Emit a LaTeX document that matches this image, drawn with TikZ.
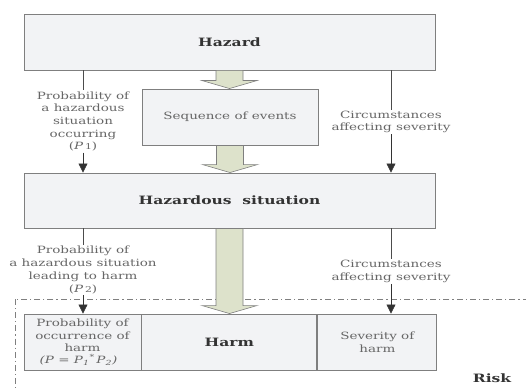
\documentclass[tikz,border=0pt]{standalone}
\usepackage{fontspec}
\setmainfont{DejaVu Serif}[FakeStretch=1.35]
\usetikzlibrary{positioning, arrows.meta, calc}
\definecolor{boxfill}{HTML}{F2F3F5}
\definecolor{boxline}{HTML}{7F7F7F}
\definecolor{labelgray}{HTML}{666666}
\definecolor{arrowfill}{HTML}{DDE2CB}
\tikzset{
  box1/.style = {
    shape = rectangle,
    draw = boxline,
    fill = boxfill,
    line width = 0.9pt,
    inner sep = 0pt,
    align = center,
    text = black!80,
    font = \fontsize{11.5}{14}\selectfont\bfseries,
  },
  box2/.style = {
    box1,
    text = labelgray,
    font = \fontsize{10}{12.7}\selectfont,
  }
}
\tikzset{
  label1/.style = {
    align = center, inner sep = 1pt, text = labelgray,
    font = \fontsize{10}{12.7}\selectfont,
  }
}
\tikzset{
  arrow1/.style = {
    draw = black!80, line width = 0.6pt, -{Triangle[length = 9pt, width = 9pt]},
  },
  line1/.style = {draw = black!70, line width = 0.6pt},
  bigarrow1/.style = {draw = boxline, fill = arrowfill, line width = 0.6pt},
  dashdot1/.style = {draw = boxline, line width = 0.7pt,
    dash pattern = on 6pt off 3pt on 1.2pt off 3pt},
}
% fat block arrow from the bottom of #1 to the top of #2
\newcommand{\fatarrow}[2]{%
  \path[bigarrow1] let \p1 = (#1.south), \p2 = (#2.north) in
    (\x1-13.5pt,\y1) -- (\x1+13.5pt,\y1) -- (\x1+13.5pt,\y2+8pt)
    -- (\x1+27.5pt,\y2+8pt) -- (\x1,\y2) -- (\x1-27.5pt,\y2+8pt)
    -- (\x1-13.5pt,\y2+8pt) -- cycle;}

\begin{document}
\begin{tikzpicture}[x = 1pt, y = -1pt]
    \useasboundingbox (0,0) rectangle (526,390);
    \draw[dashdot1] (15,299) rectangle (560,420);

    \node[box1, minimum width = 411pt, minimum height = 56pt] (hazard) at (229.5,42) {Hazard};
    \node[box2, minimum width = 176pt, minimum height = 56pt] (seq) at (230,117) {Sequence of events};
    \node[box1, minimum width = 411pt, minimum height = 55pt] (hazsit) at (229.5,200.5) {Hazardous\ \ situation};
    \node[box2, minimum width = 117pt, minimum height = 56pt] (prob) at (82.5,342)
        {Probability of\\occurrence of\\harm\\[-1pt]{\itshape (P = P\textsubscript{1}\textsuperscript{*}\,P\textsubscript{2})}\hspace*{8pt}};
    \node[box1, minimum width = 175pt, minimum height = 56pt, right = 0pt of prob] (harm) {Harm};
    \node[box2, minimum width = 119pt, minimum height = 56pt, right = 0pt of harm] (sev) {Severity of\\harm};

    \node[label1] (p1) at (83,121.5) {Probability of\\a hazardous\\situation\\occurring\\(\textit{P}\,{\footnotesize 1})};
    \node[label1] (c1) at (391,122) {Circumstances\\affecting severity};
    \node[label1] (p2) at (83,270) {Probability of\\a hazardous situation\\leading to harm\\(\textit{P}\,{\footnotesize 2})};
    \node[label1] (c2) at (391,271.5) {Circumstances\\affecting severity};
    \node[font = \fontsize{11.5}{14}\selectfont\bfseries, text = black!80] (risk) at (492,378) {Risk};

    \draw[line1] (hazard.south -| p1) -- (p1.north);
    \draw[arrow1] (p1.south) -- (hazsit.north -| p1);
    \draw[line1] (hazard.south -| c1) -- (c1.north);
    \draw[arrow1] (c1.south) -- (hazsit.north -| c1);
    \draw[line1] (hazsit.south -| p2) -- (p2.north);
    \draw[arrow1] (p2.south) -- (prob.north -| p2);
    \draw[line1] (hazsit.south -| c2) -- (c2.north);
    \draw[arrow1] (c2.south) -- (sev.north -| c2);

    \fatarrow{hazard}{seq}
    \fatarrow{seq}{hazsit}
    \fatarrow{hazsit}{harm}
\end{tikzpicture}
\end{document}
